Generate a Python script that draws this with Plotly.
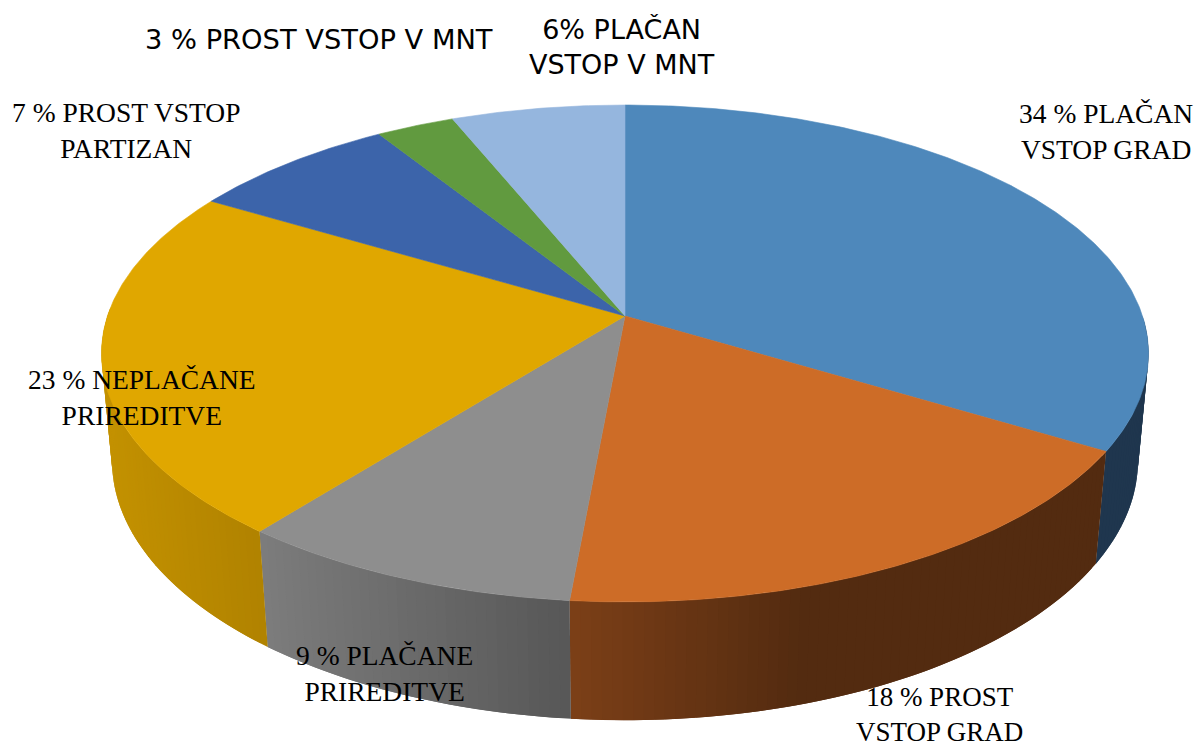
import numpy as np
import plotly.graph_objects as go

# Shares as drawn (clockwise from 12 o'clock), and the slice labels
categories = ["PLAČAN VSTOP GRAD", "PROST VSTOP GRAD", "PLAČANE PRIREDITVE", "NEPLAČANE PRIREDITVE",
              "PROST VSTOP PARTIZAN", "PROST VSTOP V MNT", "PLAČAN VSTOP V MNT"]
values = [33.6, 17.85, 9.25, 22.8, 7.5, 2.8, 6.2]
top_colors = ["#4E88BB", "#CD6C27", "#8E8E8E", "#E0A700", "#3C64AA", "#619A3F", "#95B6DE"]
side_left = ["#1F364E", "#7C3F17", "#7D7D7D", "#C49200", None, None, None]
side_right = ["#1F364E", "#532B10", "#575757", "#B08200", None, None, None]
side_fade = [(0, 1), (570, 800), (260, 570), (100, 268), None, None, None]

labels = ["34 % PLAČAN<br>VSTOP GRAD", "18 % PROST<br>VSTOP GRAD", "9 % PLAČANE<br>PRIREDITVE",
          "23 % NEPLAČANE<br>PRIREDITVE", "7 % PROST VSTOP<br>PARTIZAN", "3 % PROST VSTOP V MNT",
          "6% PLAČAN<br>VSTOP V MNT"]
label_x = [1106, 939, 384, 142, 126, 319, 622]
label_y = [131, 714, 673, 397, 130, 39, 47]
label_font = ["Liberation Serif"] * 5 + ["DejaVu Sans"] * 2
label_size = [27.5, 27, 27.5, 27.5, 27.5, 27.3, 27]

# Perspective camera
CX, CY, A, B, K, C, M = 625, 316, 242.8, 517.5, 0.1508, 108.5, 0.02


def project(deg, r=1.0, depth=0.0):
    t = np.radians(deg)
    x, y = r * np.sin(t), r * np.cos(t)
    w = 1 + K * y + M * depth
    return CX + B * x / w, CY + (-A * y + C * depth) / w


def hex_rgb(c):
    return np.array([int(c[i:i + 2], 16) for i in (1, 3, 5)], float)


def mix(c0, c1, f):
    v = hex_rgb(c0) + (hex_rgb(c1) - hex_rgb(c0)) * min(max(f, 0), 1)
    return "rgb(%d,%d,%d)" % tuple(v.round())


def polygon(xs, ys, color, width=0.6):
    return go.Scatter(x=list(xs) + [xs[0]], y=list(ys) + [ys[0]], mode="lines", fill="toself",
                      fillcolor=color, line=dict(color=color, width=width), hoverinfo="skip", showlegend=False)


fig = go.Figure()
edges = np.concatenate([[0], np.cumsum(values)]) / sum(values) * 360

# Rim of the front half: each strip runs on under the next one, so no seams show
STEP = 1.0
for i in range(len(values)):
    if side_left[i] is None:
        continue
    a0, a1 = max(edges[i], 90), min(edges[i + 1], 272)
    n = max(int((a1 - a0) / STEP), 1)
    steps = np.linspace(a0, a1, n + 1)
    for j, (s0, s1) in enumerate(zip(steps[:-1], steps[1:])):
        s2 = steps[j + 2] if j + 2 < len(steps) else s1
        arc = np.array([s0, s1, s2])
        tx, ty = project(arc)
        bx, by = project(arc, depth=1)
        f0, f1 = side_fade[i]
        mid = (project(s0)[0] + project(s1)[0] + project(s0, depth=1)[0] + project(s1, depth=1)[0]) / 4
        f = (mid - f0) / (f1 - f0)
        fig.add_trace(polygon(list(tx) + list(bx[::-1]), list(ty) + list(by[::-1]),
                              mix(side_left[i], side_right[i], f), width=0))

# Top face
for i in range(len(values)):
    arc = np.linspace(edges[i], edges[i + 1], max(int(edges[i + 1] - edges[i]) * 2, 8))
    xs, ys = project(arc)
    fig.add_trace(polygon([CX] + list(xs), [CY] + list(ys), top_colors[i]))

for txt, x, y, fam, size in zip(labels, label_x, label_y, label_font, label_size):
    fig.add_annotation(x=x, y=y, text=txt, showarrow=False, xanchor="center", yanchor="middle",
                       align="center", font=dict(family=fam, size=size, color="#000000"))

fig.update_layout(
    width=1198, height=746, margin=dict(l=0, r=0, t=0, b=0), autosize=False,
    paper_bgcolor="white", plot_bgcolor="white", showlegend=False,
    xaxis=dict(range=[0, 1198], visible=False, fixedrange=True),
    yaxis=dict(range=[746, 0], visible=False, fixedrange=True),
)
fig.write_html("out.html", config={"displayModeBar": False},
               post_script="document.body.style.margin='0';document.documentElement.style.overflow='hidden';")
